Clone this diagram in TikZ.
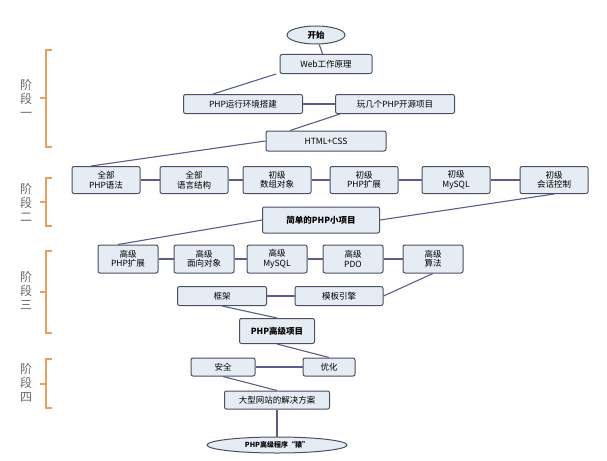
\documentclass[tikz,border=0pt]{standalone}
\usepackage{fontspec}
\setmainfont{Noto Sans CJK SC}
\definecolor{boxfill}{HTML}{E6ECF4}
\definecolor{boxline}{HTML}{4A5060}
\definecolor{linkcol}{HTML}{5A5C8C}
\definecolor{stagecol}{HTML}{E8A060}
\tikzset{
  stepbox/.style={draw=boxline, fill=boxfill, rounded corners=2pt, line width=1pt, font=\fontsize{8.5}{9.5}\selectfont, align=center, inner sep=0pt},
  endpoint/.style={draw=boxline, fill=boxfill, ellipse, line width=1pt, font=\bfseries\fontsize{8.5}{9.5}\selectfont, inner sep=0pt},
  link/.style={linkcol, line width=1.1pt},
  bracket/.style={stagecol, line width=1.4pt},
  stagelabel/.style={gray!80!black, font=\fontsize{12}{14}\selectfont, align=center}
}
\usetikzlibrary{shapes.geometric}
\begin{document}
\begin{tikzpicture}[x=1pt, y=-1pt]
  \useasboundingbox (0,0) rectangle (607,460);
  % stage one
  \node[endpoint, minimum width=58pt, minimum height=18pt] (start) at (316,35) {开始};
  \node[stepbox, minimum width=92pt, minimum height=19pt] (web) at (326,64) {Web工作原理};
  \node[stepbox, minimum width=119pt, minimum height=19pt] (env) at (243,104) {PHP运行环境搭建};
  \node[stepbox, minimum width=119pt, minimum height=19pt] (oss) at (395,104) {玩几个PHP开源项目};
  \node[stepbox, minimum width=120pt, minimum height=20pt] (html) at (326,141) {HTML+CSS};
  % stage two
  \node[stepbox, minimum width=68pt, minimum height=27pt] (syntax) at (106,180) {全部\\PHP语法};
  \node[stepbox, minimum width=68pt, minimum height=27pt] (struct) at (194,180) {全部\\语言结构};
  \node[stepbox, minimum width=68pt, minimum height=27pt] (array) at (277,180) {初级\\数组对象};
  \node[stepbox, minimum width=68pt, minimum height=27pt] (ext) at (364,180) {初级\\PHP扩展};
  \node[stepbox, minimum width=68pt, minimum height=27pt] (mysql) at (456,180) {初级\\MySQL};
  \node[stepbox, minimum width=68pt, minimum height=27pt] (session) at (554,180) {初级\\会话控制};
  \node[stepbox, font=\bfseries\fontsize{8.5}{9.5}\selectfont, minimum width=117pt, minimum height=26pt] (small) at (321,220) {简单的PHP小项目};
  % stage three
  \node[stepbox, minimum width=60pt, minimum height=28pt] (hext) at (128,259) {高级\\PHP扩展};
  \node[stepbox, minimum width=60pt, minimum height=28pt] (hoop) at (204,259) {高级\\面向对象};
  \node[stepbox, minimum width=60pt, minimum height=28pt] (hmysql) at (277,259) {高级\\MySQL};
  \node[stepbox, minimum width=60pt, minimum height=28pt] (hpdo) at (353,259) {高级\\PDO};
  \node[stepbox, minimum width=60pt, minimum height=28pt] (halgo) at (433,259) {高级\\算法};
  \node[stepbox, minimum width=89pt, minimum height=19pt] (frame) at (222,296) {框架};
  \node[stepbox, minimum width=88pt, minimum height=19pt] (tpl) at (339,296) {模板引擎};
  \node[stepbox, font=\bfseries\fontsize{8.5}{9.5}\selectfont, minimum width=75pt, minimum height=25pt] (adv) at (277,331) {PHP高级项目};
  % stage four
  \node[stepbox, minimum width=64pt, minimum height=18pt] (safe) at (223,367) {安全};
  \node[stepbox, minimum width=52pt, minimum height=18pt] (opt) at (329,367) {优化};
  \node[stepbox, minimum width=105pt, minimum height=18pt] (large) at (277,400) {大型网站的解决方案};
  \node[endpoint, font=\bfseries\fontsize{7}{8}\selectfont, minimum width=140pt, minimum height=16pt] (goal) at (277,445) {PHP高级程序“猿”};

  \draw[link] (start) -- (web);
  \draw[link] ([xshift=-50pt]web.south) -- ([xshift=-30pt]env.north);
  \draw[link] (env) -- (oss);
  \draw[link] ([xshift=-55pt]oss.south) -- ([xshift=-36pt]html.north);
  \draw[link] (html.west) -- ([xshift=-15pt]syntax.north);
  \draw[link] (syntax) -- (struct) -- (array) -- (ext) -- (mysql) -- (session);
  \draw[link] (session.south) -- (small.east);
  \draw[link] (small.west) -- ([xshift=-10pt]hext.north);
  \draw[link] (hext) -- (hoop) -- (hmysql) -- (hpdo) -- (halgo);
  \draw[link] (halgo.south) -- (tpl.east);
  \draw[link] (frame) -- (tpl);
  \draw[link] (frame.south) -- (adv.north);
  \draw[link] (adv.south) -- (opt.north);
  \draw[link] (safe) -- (opt);
  \draw[link] (safe.south) -- (large.north);
  \draw[link] (large) -- (goal);

  % stage brackets
  \draw[bracket] (52,50) -- (46,50) -- (46,147) -- (52,147);
  \draw[bracket] (46,98) -- (40,98);
  \node[stagelabel] (s1) at (26,98) {阶\\段\\一};
  \draw[bracket] (52,178) -- (46,178) -- (46,226) -- (52,226);
  \draw[bracket] (46,202) -- (40,202);
  \node[stagelabel] (s2) at (26,202) {阶\\段\\二};
  \draw[bracket] (52,251) -- (46,251) -- (46,333) -- (52,333);
  \draw[bracket] (46,292) -- (40,292);
  \node[stagelabel] (s3) at (26,290) {阶\\段\\三};
  \draw[bracket] (52,359) -- (46,359) -- (46,408) -- (52,408);
  \draw[bracket] (46,384) -- (40,384);
  \node[stagelabel] (s4) at (26,383) {阶\\段\\四};
\end{tikzpicture}
\end{document}
